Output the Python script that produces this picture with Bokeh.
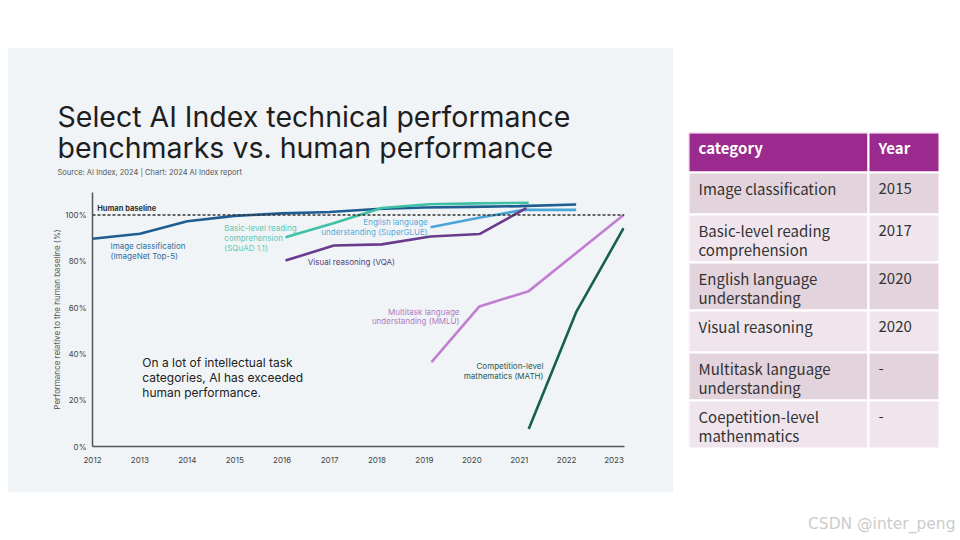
from bokeh.plotting import figure
from bokeh.models import Range1d, FixedTicker, PrintfTickFormatter, Span, ColumnDataSource
from bokeh.layouts import row, column, Spacer
from bokeh.core.properties import value
from bokeh.embed import file_html
from bokeh.resources import INLINE

# ---------------- data ----------------
tick_years = [2012, 2013, 2014, 2015, 2016, 2017, 2018, 2019, 2020, 2021, 2022, 2023]
y_ticks = [0, 20, 40, 60, 80, 100]
human_baseline = 100

img_x = [2012.0, 2013.0, 2014.0, 2015.0, 2016.0, 2017.0, 2018.0, 2019.0, 2020.0, 2021.0, 2022.2]
img_y = [89.7, 91.9, 97.3, 99.6, 100.7, 101.3, 102.6, 103.2, 103.5, 103.8, 104.5]

squad_x = [2016.07, 2017.1, 2018.1, 2019.1, 2020.1, 2021.2]
squad_y = [90.4, 96.5, 103.0, 104.6, 105.0, 105.3]

glue_x = [2019.13, 2020.15, 2021.1, 2022.2]
glue_y = [94.7, 98.8, 102.2, 102.2]

vqa_x = [2016.07, 2017.09, 2018.1, 2019.13, 2020.17, 2021.15]
vqa_y = [80.3, 86.8, 87.3, 90.7, 91.8, 103.0]

mmlu_x = [2019.15, 2020.16, 2021.2, 2023.2]
mmlu_y = [36.4, 60.5, 67.1, 100.0]

math_x = [2021.2, 2022.2, 2023.2]
math_y = [7.6, 58.0, 94.3]

title_lines = ["Select AI Index technical performance", "benchmarks vs. human performance"]
source_text = "Source: AI Index, 2024 | Chart: 2024 AI Index report"
note_lines = ["On a lot of intellectual task", "categories, AI has exceeded", "human performance."]

table_header = ["category", "Year"]
table_categories = ["Image classification",
                    "Basic-level reading\ncomprehension",
                    "English language\nunderstanding",
                    "Visual reasoning",
                    "Multitask language\nunderstanding",
                    "Coepetition-level\nmathenmatics"]
table_years = ["2015", "2017", "2020", "2020", "-", "-"]
watermark = "CSDN @inter_peng"

# ---------------- styles ----------------
BG = "#f0f4f7"
FONT = value("Inter")
C_IMG, C_SQ, C_GLUE, C_VQA, C_MMLU, C_MATH = "#1f5d91", "#3ec1a6", "#4aa6d8", "#6a3a8c", "#c27ed2", "#17614c"

def no_align(fig):
    if "frame_align" in fig.properties():
        fig.frame_align = False

# ---------------- header ----------------
h = figure(width=665, height=144, x_range=Range1d(0, 665), y_range=Range1d(144, 0),
           title=None, toolbar_location=None, output_backend="svg",
           x_axis_type=None, y_axis_type=None, min_border=0,
           background_fill_color=BG, border_fill_color=BG, outline_line_color=None)
h.grid.visible = False
no_align(h)
h.text(x=[49, 49], y=[68, 99], text=title_lines, text_font=FONT, text_font_size="28.5px",
       text_baseline="middle", text_color="#1e1e1e")
h.text(x=[49], y=[124], text=[source_text], text_font=FONT, text_font_size="7.5px",
       text_baseline="middle", text_color="#555555")

# ---------------- chart ----------------
p = figure(width=665, height=300, x_range=Range1d(2012, 2023.22), y_range=Range1d(0, 109.7),
           title=None, toolbar_location=None, output_backend="svg",
           min_border_left=84, min_border_right=49, min_border_top=0, min_border_bottom=46,
           background_fill_color=BG, border_fill_color=BG, outline_line_color=None)
p.grid.visible = False
no_align(p)
for ax in (p.xaxis, p.yaxis):
    ax.axis_line_color = "#555555"
    ax.axis_line_width = 1.5
    ax.major_tick_line_color = None
    ax.minor_tick_line_color = None
    ax.major_label_text_font = "Inter"
    ax.major_label_text_font_size = "8px"
    ax.major_label_text_color = "#444444"
p.xaxis.ticker = FixedTicker(ticks=tick_years)
p.xaxis.major_label_standoff = 4
p.yaxis.ticker = FixedTicker(ticks=y_ticks)
p.yaxis.formatter = PrintfTickFormatter(format="%d%%")
p.yaxis.major_label_standoff = 0
p.yaxis.axis_label = "Performance relative to the human baseline (%)"
p.yaxis.axis_label_text_font = "Inter"
p.yaxis.axis_label_text_font_size = "8px"
p.yaxis.axis_label_text_font_style = "normal"
p.yaxis.axis_label_text_color = "#555555"
p.yaxis.axis_label_standoff = 0

p.add_layout(Span(location=human_baseline, dimension="width", line_color="#333333",
                  line_width=1.4, line_dash="3 2"))

for xs, ys, c in [(img_x, img_y, C_IMG), (squad_x, squad_y, C_SQ), (glue_x, glue_y, C_GLUE),
                  (vqa_x, vqa_y, C_VQA), (mmlu_x, mmlu_y, C_MMLU), (math_x, math_y, C_MATH)]:
    p.line(xs, ys, line_color=c, line_width=2.6)

def lbl(x, y, lines, color, align="left", size="8px", step=4.3, weight="normal"):
    p.text(x=[x] * len(lines), y=[y - i * step for i in range(len(lines))], text=lines,
           text_font=FONT, text_font_size=size, text_color=color, text_align=align,
           text_baseline="middle", text_font_style=weight)

lbl(2012.1, 102.8, ["Human baseline"], "#333333", size="7.5px", weight="bold")
lbl(2012.38, 86.6, ["Image classification", "(ImageNet Top-5)"], "#2d6e9e")
lbl(2014.78, 94.5, ["Basic-level reading", "comprehension", "(SQuAD 1.1)"], "#5ec9b5")
lbl(2019.07, 96.8, ["English language", "understanding (SuperGLUE)"], "#5aaad8", align="right")
lbl(2016.54, 79.5, ["Visual reasoning (VQA)"], "#5a3a78")
lbl(2019.74, 58.3, ["Multitask language", "understanding (MMLU)"], "#b07ac0", align="right")
lbl(2021.51, 34.6, ["Competition-level", "mathematics (MATH)"], "#2a5a50", align="right")
lbl(2013.05, 36.3, note_lines, "#222222", size="12px", step=6.5)

# ---------------- table ----------------
t = figure(width=272, height=408, x_range=Range1d(0, 272), y_range=Range1d(408, 0),
           title=None, toolbar_location=None, output_backend="svg",
           x_axis_type=None, y_axis_type=None, min_border=0,
           background_fill_color="white", border_fill_color="white", outline_line_color=None)
t.grid.visible = False
no_align(t)

HEAD_H, ROW1, ROW2 = 40, 42, 48
col_l, col_m, col_r = 0, 180, 251
tops, bottoms, fills = [0], [HEAD_H], ["#9a2a8e"]
y = HEAD_H
for i, cat in enumerate(table_categories):
    hgt = ROW1 if "\n" not in cat else ROW2
    tops.append(y); bottoms.append(y + hgt)
    fills.append("#e3d3dd" if i % 2 == 0 else "#f0e5ec")
    y += hgt
src = ColumnDataSource(dict(top=tops * 2, bottom=bottoms * 2,
                            left=[col_l] * len(tops) + [col_m] * len(tops),
                            right=[col_m] * len(tops) + [col_r] * len(tops),
                            fill=fills * 2))
t.quad(top="top", bottom="bottom", left="left", right="right", fill_color="fill",
       line_color="white", line_width=2, source=src)

TFONT = value("Noto Sans CJK SC")
t.text(x=[10, 190], y=[15, 15], text=table_header, text_font=TFONT, text_font_size="15px",
       text_font_style="bold", text_color="white", text_baseline="middle")
tx, ty, tt = [], [], []
for i, cat in enumerate(table_categories):
    for j, line in enumerate(cat.split("\n")):
        tx.append(10); ty.append(tops[i + 1] + 16 + j * 19); tt.append(line)
    tx.append(190); ty.append(tops[i + 1] + 16); tt.append(table_years[i])
t.text(x=tx, y=ty, text=tt, text_font=TFONT, text_font_size="15px",
       text_color="#333333", text_baseline="middle")
t.text(x=[267], y=[391], text=[watermark], text_font=value("DejaVu Sans"),
       text_font_size="15.5px", text_color="#cccccc", text_align="right", text_baseline="middle")

left = column(h, p, spacing=0, styles={"background-color": BG})
layout = column(Spacer(height=48),
                row(Spacer(width=8), left, Spacer(width=15),
                    column(Spacer(height=84), t, spacing=0), spacing=0),
                spacing=0)

open("out.html", "w").write(file_html(layout, INLINE))
